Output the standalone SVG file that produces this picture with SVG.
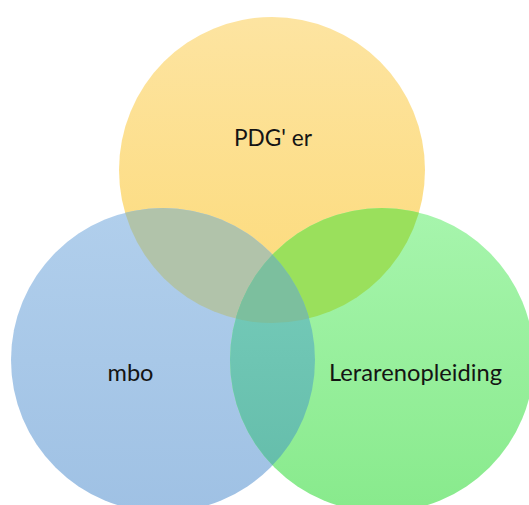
<svg xmlns="http://www.w3.org/2000/svg" width="529" height="505" viewBox="0 0 529 505">
  <style>
    .lbl { font-family: Lato, "Open Sans", "Liberation Sans", sans-serif; font-size: 23px; fill: #141414; text-anchor: middle; }
  </style>
  <defs>
    <clipPath id="cTop"><circle cx="272" cy="170" r="153"/></clipPath>
    <clipPath id="cLeft"><circle cx="163" cy="360" r="152"/></clipPath>
    <linearGradient id="gY" x1="0" y1="0" x2="0" y2="1">
      <stop offset="0" stop-color="#FDE4A1"/>
      <stop offset="1" stop-color="#FCDA78"/>
    </linearGradient>
    <linearGradient id="gB" x1="0" y1="0" x2="0" y2="1">
      <stop offset="0" stop-color="#B1CFEC"/>
      <stop offset="1" stop-color="#9FC1E4"/>
    </linearGradient>
    <linearGradient id="gG" x1="0" y1="0" x2="0" y2="1">
      <stop offset="0" stop-color="#A7F5AD"/>
      <stop offset="1" stop-color="#88EA8C"/>
    </linearGradient>
    <linearGradient id="gBG" x1="0" y1="0" x2="0" y2="1">
      <stop offset="0" stop-color="#7ACFBE"/>
      <stop offset="1" stop-color="#62BBA8"/>
    </linearGradient>
  </defs>

  <g id="node-pdg">
    <circle cx="272" cy="170" r="153" fill="url(#gY)"/>
  </g>
  <g id="node-mbo">
    <circle cx="163" cy="360" r="152" fill="url(#gB)"/>
  </g>
  <g id="node-lerarenopleiding">
    <circle cx="382" cy="360" r="152" fill="url(#gG)"/>
  </g>

  <g id="overlaps">
    <circle cx="163" cy="360" r="152" fill="#B1C3AA" clip-path="url(#cTop)"/>
    <circle cx="382" cy="360" r="152" fill="#9AE05C" clip-path="url(#cTop)"/>
    <circle cx="382" cy="360" r="152" fill="url(#gBG)" clip-path="url(#cLeft)"/>
    <g clip-path="url(#cTop)">
      <circle cx="382" cy="360" r="152" fill="#7CBF9E" clip-path="url(#cLeft)"/>
    </g>
  </g>

  <g id="labels">
    <text class="lbl" x="273" y="146" textLength="78" lengthAdjust="spacingAndGlyphs">PDG' er</text>
    <text class="lbl" x="130.5" y="381" textLength="46" lengthAdjust="spacingAndGlyphs">mbo</text>
    <text class="lbl" x="415.5" y="381" textLength="173" lengthAdjust="spacingAndGlyphs">Lerarenopleiding</text>
  </g>
</svg>
